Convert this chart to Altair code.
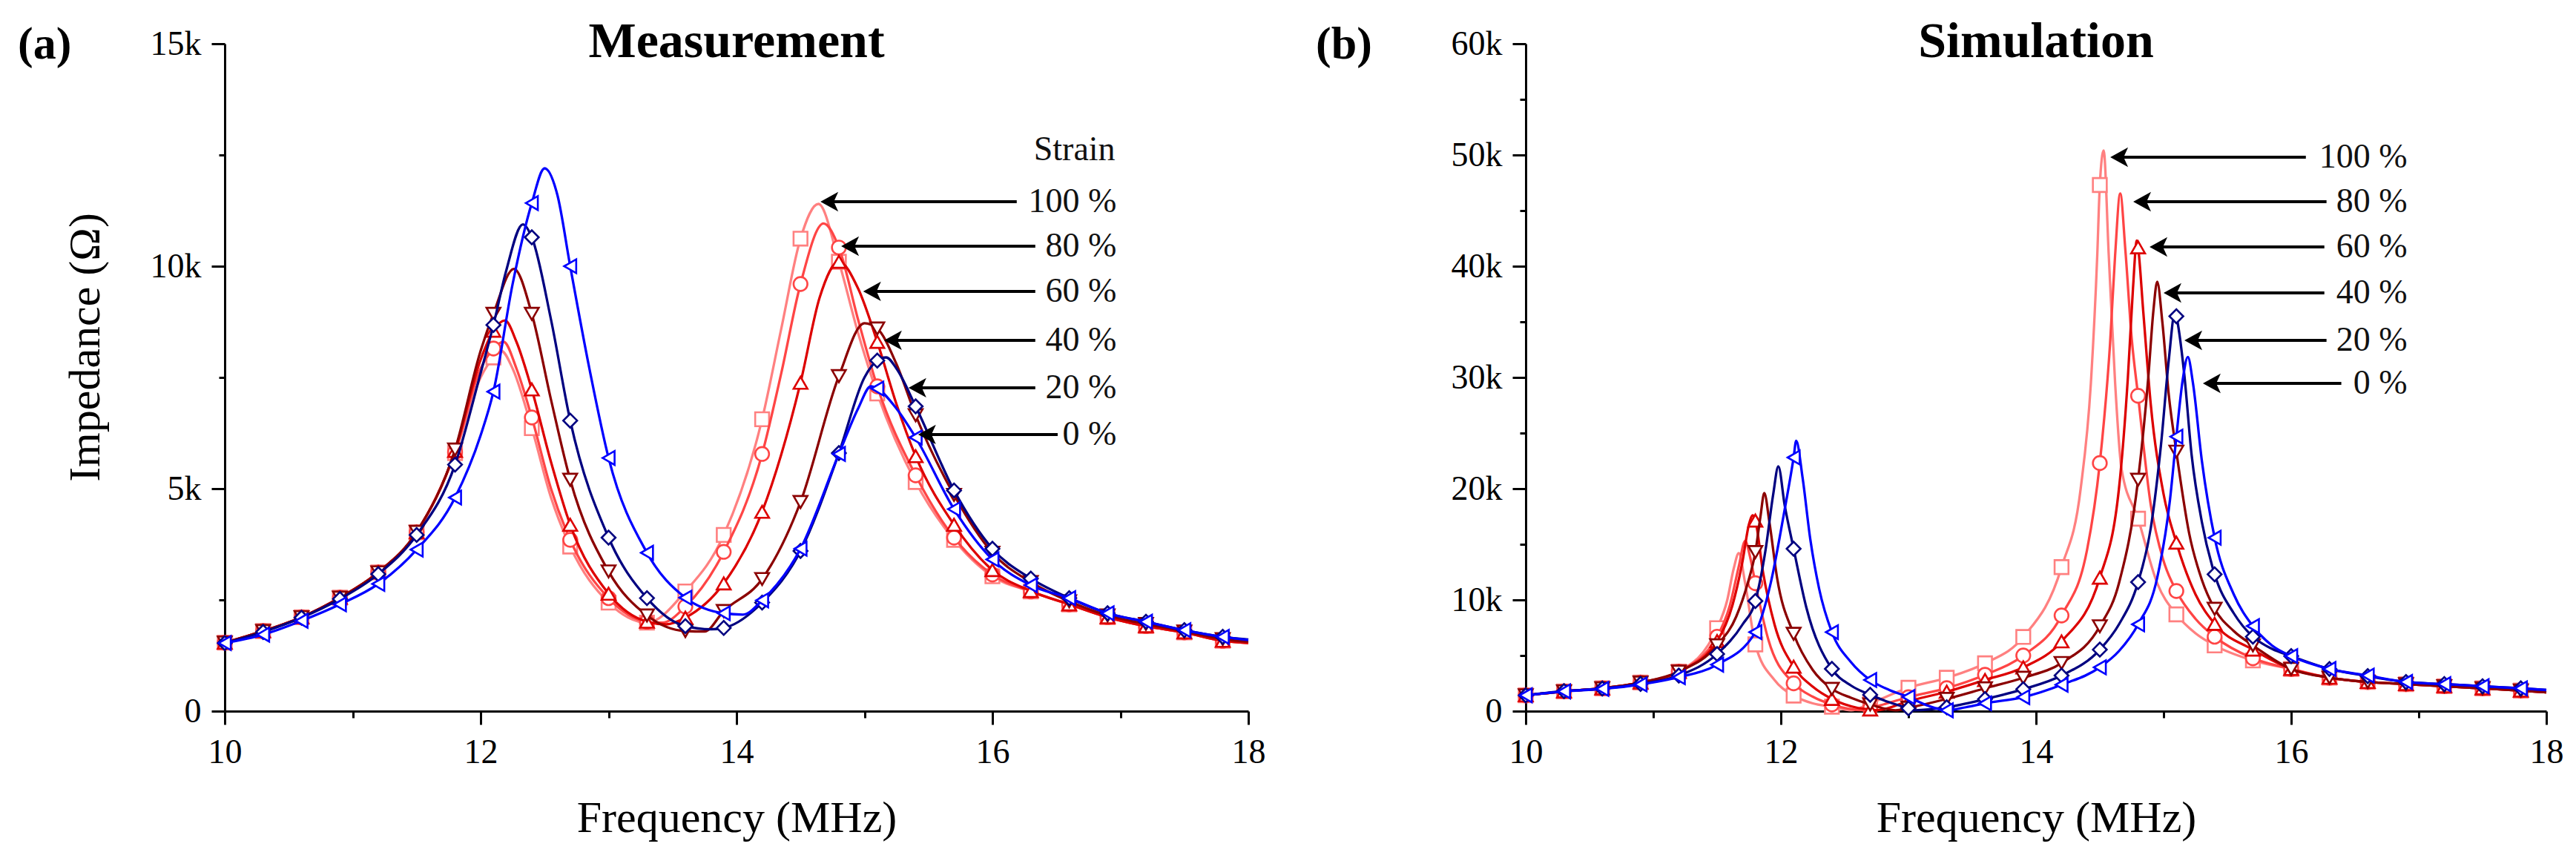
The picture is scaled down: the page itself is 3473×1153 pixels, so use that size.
import altair as alt
import pandas as pd

FONT = "Liberation Serif"

# ---------------- categories / ticks ----------------
STRAINS = ["100 %", "80 %", "60 %", "40 %", "20 %", "0 %"]
COLORS = ["#FF8080", "#FF4545", "#DD0000", "#8B0000", "#000080", "#0000FF"]
SHAPES = ["square", "circle", "triangle-up", "triangle-down", "diamond", "triangle-left"]
FREQ_TICKS = [10, 11, 12, 13, 14, 15, 16, 17, 18]
MEAS_Y_TICKS = [0, 2500, 5000, 7500, 10000, 12500, 15000]
SIM_Y_TICKS = [0, 5000, 10000, 15000, 20000, 25000, 30000, 35000, 40000, 45000, 50000, 55000, 60000]

# ---------------- (a) Measurement: (frequency MHz, impedance ohm) ----------------
MEAS_100 = [(10.0,1540),(10.3,1800),(10.6,2110),(10.9,2550),(11.2,3120),(11.5,4020),(11.8,5800),(12.0,7500),(12.1,7950),(12.16,8100),(12.25,7700),(12.4,6360),(12.55,4800),(12.7,3700),(13.0,2440),(13.3,1990),(13.6,2690),(13.9,3960),(14.2,6560),(14.35,8600),(14.5,10620),(14.64,11400),(14.8,10100),(14.95,8500),(15.1,7140),(15.4,5150),(15.7,3850),(16.0,3030),(16.3,2690),(16.6,2400),(16.9,2110),(17.2,1910),(17.5,1770),(17.8,1580),(18.0,1530)]
MEAS_80 = [(10.0,1540),(10.3,1800),(10.6,2110),(10.9,2550),(11.2,3120),(11.5,4020),(11.8,5820),(12.0,7700),(12.1,8150),(12.18,8300),(12.28,7700),(12.4,6600),(12.55,5000),(12.7,3850),(13.0,2540),(13.3,2010),(13.42,1990),(13.6,2350),(13.9,3580),(14.2,5780),(14.35,7600),(14.5,9600),(14.68,10960),(14.8,10420),(14.95,8800),(15.1,7300),(15.4,5300),(15.7,3900),(16.0,3070),(16.3,2690),(16.6,2400),(16.9,2110),(17.2,1910),(17.5,1770),(17.8,1580),(18.0,1530)]
MEAS_60 = [(10.0,1540),(10.3,1800),(10.6,2110),(10.9,2550),(11.2,3120),(11.5,4020),(11.8,5850),(12.0,7900),(12.1,8550),(12.19,8780),(12.28,8300),(12.4,7230),(12.55,5600),(12.7,4190),(13.0,2640),(13.3,2010),(13.45,1950),(13.6,2100),(13.9,2870),(14.2,4480),(14.5,7380),(14.65,9300),(14.8,10100),(14.95,9500),(15.1,8300),(15.25,6900),(15.4,5730),(15.7,4190),(16.0,3170),(16.3,2700),(16.6,2400),(16.9,2110),(17.2,1910),(17.5,1770),(17.8,1580),(18.0,1530)]
MEAS_40 = [(10.0,1540),(10.3,1800),(10.6,2110),(10.9,2550),(11.2,3120),(11.5,4030),(11.8,5880),(12.0,8100),(12.1,8930),(12.26,9940),(12.4,8930),(12.55,7000),(12.7,5200),(13.0,3140),(13.3,2150),(13.6,1800),(13.75,1790),(13.9,2250),(14.2,2970),(14.5,4700),(14.8,7530),(15.0,8720),(15.1,8600),(15.25,7800),(15.4,6650),(15.7,4860),(16.0,3560),(16.3,2900),(16.6,2470),(16.9,2150),(17.2,1960),(17.5,1790),(17.8,1620),(18.0,1560)]
MEAS_20 = [(10.0,1530),(10.3,1780),(10.6,2100),(10.9,2520),(11.2,3080),(11.5,3960),(11.8,5540),(12.0,7600),(12.1,8680),(12.2,9900),(12.33,10940),(12.4,10650),(12.55,8800),(12.7,6530),(13.0,3900),(13.3,2540),(13.6,1910),(13.8,1840),(13.9,1870),(14.2,2440),(14.5,3600),(14.8,5800),(15.0,7500),(15.1,7880),(15.17,7950),(15.25,7700),(15.4,6850),(15.7,4960),(16.0,3650),(16.3,2980),(16.6,2540),(16.9,2200),(17.2,2010),(17.5,1820),(17.8,1670),(18.0,1610)]
MEAS_0 = [(10.0,1530),(10.3,1720),(10.6,2030),(10.9,2400),(11.2,2860),(11.5,3630),(11.8,4800),(12.0,6200),(12.1,7180),(12.25,9600),(12.4,11420),(12.5,12200),(12.6,11600),(12.7,10000),(12.85,7700),(13.0,5690),(13.3,3560),(13.6,2550),(13.9,2200),(14.05,2170),(14.2,2490),(14.5,3650),(14.8,5780),(14.95,6800),(15.05,7300),(15.1,7250),(15.25,6800),(15.4,6150),(15.7,4540),(16.0,3410),(16.3,2830),(16.6,2540),(16.9,2200),(17.2,2010),(17.5,1820),(17.8,1670),(18.0,1600)]

# ---------------- (b) Simulation ----------------
SIM_100 = [(10.0,1420),(10.3,1780),(10.6,2050),(10.9,2570),(11.2,3550),(11.5,7460),(11.58,10000),(11.63,12800),(11.67,14200),(11.72,11500),(11.8,6000),(11.95,2800),(12.1,1400),(12.25,700),(12.4,400),(12.55,80),(12.7,700),(13.0,2100),(13.3,3000),(13.6,4300),(13.9,6670),(14.2,12950),(14.35,20000),(14.43,29500),(14.48,41000),(14.5,47300),(14.53,50400),(14.57,41000),(14.62,29500),(14.67,21800),(14.8,17300),(14.95,11500),(15.1,8700),(15.25,7000),(15.4,5910),(15.7,4560),(16.0,3790),(16.3,3010),(16.6,2620),(16.9,2430),(17.2,2240),(17.5,2050),(17.8,1850),(18.0,1700)]
SIM_80 = [(10.0,1420),(10.3,1780),(10.6,2050),(10.9,2570),(11.2,3550),(11.5,6690),(11.6,9500),(11.67,13000),(11.72,15300),(11.76,13800),(11.8,11500),(11.9,6500),(12.1,2500),(12.25,1300),(12.4,600),(12.65,80),(12.7,250),(13.0,1250),(13.3,2070),(13.6,3270),(13.9,5000),(14.2,8600),(14.4,14500),(14.5,22300),(14.58,33000),(14.62,41000),(14.66,46540),(14.7,41500),(14.75,33500),(14.8,28350),(14.9,18500),(15.0,13500),(15.1,10800),(15.25,8300),(15.4,6690),(15.7,4750),(16.0,3790),(16.3,3010),(16.6,2620),(16.9,2430),(17.2,2240),(17.5,2050),(17.8,1850),(18.0,1700)]
SIM_60 = [(10.0,1420),(10.3,1780),(10.6,2050),(10.9,2570),(11.2,3550),(11.5,6300),(11.62,9500),(11.7,13500),(11.75,16800),(11.78,17600),(11.8,17130),(11.86,12500),(11.95,7800),(12.1,4000),(12.25,2200),(12.4,1100),(12.6,300),(12.7,150),(12.75,80),(13.0,900),(13.3,1750),(13.6,2800),(13.9,3930),(14.2,6270),(14.5,12000),(14.65,20000),(14.72,30000),(14.76,38000),(14.79,42300),(14.8,41700),(14.84,36000),(14.9,27500),(15.0,19500),(15.1,15150),(15.25,10500),(15.4,7850),(15.7,5530),(16.0,3790),(16.3,3010),(16.6,2620),(16.9,2430),(17.2,2240),(17.5,2050),(17.8,1850),(18.0,1700)]
SIM_40 = [(10.0,1420),(10.3,1780),(10.6,2050),(10.9,2570),(11.2,3550),(11.5,5920),(11.65,8500),(11.74,11500),(11.8,14300),(11.84,17500),(11.87,19600),(11.91,17000),(11.97,12000),(12.1,6950),(12.25,3700),(12.4,2000),(12.55,1200),(12.7,600),(12.9,80),(13.0,300),(13.3,1100),(13.6,2050),(13.9,3000),(14.2,4330),(14.5,7630),(14.65,11500),(14.8,20800),(14.88,30000),(14.92,36000),(14.95,38600),(14.99,35000),(15.04,28500),(15.1,23330),(15.2,16000),(15.3,11800),(15.4,9200),(15.55,7200),(15.7,5910),(16.0,3790),(16.3,3010),(16.6,2620),(16.9,2430),(17.2,2240),(17.5,2050),(17.8,1850),(18.0,1700)]
SIM_20 = [(10.0,1420),(10.3,1800),(10.6,2030),(10.9,2450),(11.2,3200),(11.5,5140),(11.7,7800),(11.8,9900),(11.88,14500),(11.94,19500),(11.98,22000),(12.03,18500),(12.1,14600),(12.2,9300),(12.4,3800),(12.55,2300),(12.7,1470),(12.85,800),(13.0,250),(13.05,80),(13.3,350),(13.6,1080),(13.9,1970),(14.2,3200),(14.5,5530),(14.65,7800),(14.8,11600),(14.9,16500),(14.98,24000),(15.04,31500),(15.09,35900),(15.1,35500),(15.16,30500),(15.22,23000),(15.3,17000),(15.4,12300),(15.55,8800),(15.7,6690),(15.85,5600),(16.0,4950),(16.3,3790),(16.6,3150),(16.9,2620),(17.2,2430),(17.5,2240),(17.8,2050),(18.0,1900)]
SIM_0 = [(10.0,1420),(10.3,1780),(10.6,2000),(10.9,2400),(11.2,3050),(11.5,4180),(11.8,7100),(11.92,11500),(12.02,17500),(12.1,22800),(12.12,24300),(12.17,21000),(12.23,15500),(12.3,11000),(12.4,7100),(12.55,4400),(12.7,2800),(12.85,1900),(13.0,1270),(13.15,500),(13.3,80),(13.45,350),(13.6,700),(13.9,1260),(14.2,2370),(14.5,3940),(14.65,5400),(14.8,7800),(14.95,12000),(15.05,19000),(15.1,24680),(15.15,29800),(15.19,31840),(15.23,29500),(15.3,22500),(15.4,15590),(15.55,10500),(15.7,7650),(15.85,5900),(16.0,4950),(16.3,3790),(16.6,3200),(16.9,2620),(17.2,2430),(17.5,2240),(17.8,2050),(18.0,1900)]

# ---------------- annotations (data coordinates) ----------------
MEAS_ARROW_TIP_F = [14.656, 14.818, 14.99, 15.153, 15.344, 15.419]
MEAS_ARROW_Z = [11450, 10450, 9435, 8335, 7268, 6218]
MEAS_ARROW_TAIL_F = [16.19, 16.335, 16.335, 16.335, 16.335, 16.51]
MEAS_LABEL_F = 16.97
MEAS_STRAIN = ("Strain", 16.96, 12385)
MEAS_TAG = ("(a)", 8.383, 14667)
MEAS_TITLE = ("Measurement", 14.0, 14700)

SIM_ARROW_TIP_F = [14.582, 14.762, 14.890, 15.0, 15.163, 15.308]
SIM_ARROW_Z = [49800, 45800, 41730, 37600, 33330, 29470]
SIM_ARROW_TAIL_F = [16.115, 16.277, 16.26, 16.26, 16.277, 16.393]
SIM_LABEL_F = 16.91
SIM_TAG = ("(b)", 8.355, 58667)
SIM_TITLE = ("Simulation", 14.0, 58800)

ARROW_HEAD = "M0,0 L2,-1.1 L1.5,0 L2,1.1 Z"


def is_marker(f):
    k = (f - 10.0) / 0.3
    return abs(k - round(k)) < 1e-6 and f < 17.9


def make_panel(series, y_ticks, y_major, y_title, title, tag, tips, zs, tails,
               label_f, width, strain=None):
    xscale = alt.Scale(domain=[10, 18], nice=False, zero=False)
    yscale = alt.Scale(domain=[y_ticks[0], y_ticks[-1]], nice=False, zero=False)
    xaxis = alt.Axis(
        values=FREQ_TICKS,
        labelExpr="datum.value % 2 == 0 ? format(datum.value, 'd') : ''",
        tickSize={"condition": {"test": "datum.value % 2 == 0", "value": 18}, "value": 9},
        title="Frequency (MHz)",
        labelPadding=15,
        titlePadding=37,
    )
    label_expr = (
        "datum.value == 0 ? '0' : (datum.value % " + str(y_major)
        + " == 0 ? format(datum.value / 1000, 'd') + 'k' : '')"
    )
    yaxis = alt.Axis(
        values=y_ticks,
        labelExpr=label_expr,
        tickSize={"condition": {"test": "datum.value % " + str(y_major) + " == 0", "value": 18}, "value": 8},
        title=y_title,
        labelPadding=14,
        titlePadding=56,
        titleY=409,
    )

    def X(field):
        return alt.X(field, type="quantitative", scale=xscale, axis=xaxis)

    def Y(field):
        return alt.Y(field, type="quantitative", scale=yscale, axis=yaxis)

    layers = []
    for pts, color, shape in series:
        df = pd.DataFrame(sorted(pts), columns=["f", "z"])
        mk = df[df["f"].apply(is_marker)]
        layers.append(
            alt.Chart(df).mark_line(color=color, strokeWidth=3.3, interpolate="monotone")
            .encode(x=X("f"), y=Y("z"))
        )
        layers.append(
            alt.Chart(mk).mark_point(shape=shape, filled=True, fill="white", stroke=color,
                                     strokeWidth=2.6, size=350, opacity=1)
            .encode(x=X("f"), y=Y("z"))
        )

    adf = pd.DataFrame({"label": STRAINS, "tip": tips, "z": zs, "tail": tails,
                        "lab": [label_f] * len(STRAINS)})
    layers.append(
        alt.Chart(adf).transform_calculate(shaft="datum.tip + 0.06")
        .mark_rule(color="black", strokeWidth=4)
        .encode(x=X("shaft:Q"), x2=alt.X2("tail"), y=Y("z"))
    )
    layers.append(
        alt.Chart(adf).mark_point(shape=ARROW_HEAD, filled=True, color="black", size=576, opacity=1)
        .encode(x=X("tip"), y=Y("z"))
    )
    layers.append(
        alt.Chart(adf).mark_text(align="right", baseline="middle", font=FONT, fontSize=46, color="#111111")
        .encode(x=X("lab"), y=Y("z"), text="label:N")
    )
    if strain is not None:
        sdf = pd.DataFrame({"t": [strain[0]], "f": [strain[1]], "z": [strain[2]]})
        layers.append(
            alt.Chart(sdf).mark_text(align="right", baseline="alphabetic", font=FONT, fontSize=46, color="#111111")
            .encode(x=X("f"), y=Y("z"), text="t:N")
        )
    tdf = pd.DataFrame({"t": [tag[0]], "f": [tag[1]], "z": [tag[2]]})
    layers.append(
        alt.Chart(tdf).mark_text(align="left", baseline="alphabetic", font=FONT, fontSize=62,
                                 fontWeight="bold", color="black")
        .encode(x=X("f"), y=Y("z"), text="t:N")
    )
    ttdf = pd.DataFrame({"t": [title[0]], "f": [title[1]], "z": [title[2]]})
    layers.append(
        alt.Chart(ttdf).mark_text(align="center", baseline="alphabetic", font=FONT, fontSize=68,
                                  fontWeight="bold", color="black")
        .encode(x=X("f"), y=Y("z"), text="t:N")
    )

    return alt.layer(*layers).properties(width=width, height=900)


meas_series = list(zip([MEAS_100, MEAS_80, MEAS_60, MEAS_40, MEAS_20, MEAS_0], COLORS, SHAPES))
sim_series = list(zip([SIM_100, SIM_80, SIM_60, SIM_40, SIM_20, SIM_0], COLORS, SHAPES))

panel_a = make_panel(meas_series, MEAS_Y_TICKS, 5000, "Impedance (Ω)", MEAS_TITLE, MEAS_TAG,
                     MEAS_ARROW_TIP_F, MEAS_ARROW_Z, MEAS_ARROW_TAIL_F, MEAS_LABEL_F, 1380,
                     strain=MEAS_STRAIN)
panel_b = make_panel(sim_series, SIM_Y_TICKS, 10000, "", SIM_TITLE, SIM_TAG,
                     SIM_ARROW_TIP_F, SIM_ARROW_Z, SIM_ARROW_TAIL_F, SIM_LABEL_F, 1376)

chart = (
    alt.hconcat(panel_a, panel_b, spacing=374, bounds="flush")
    .properties(padding={"left": 15, "top": 14, "right": 5, "bottom": 5}, background="white")
    .configure_view(stroke="transparent")
    .configure_axis(
        domainColor="black", domainWidth=3, tickColor="black", tickWidth=3,
        labelFont=FONT, labelFontSize=46, labelColor="black", labelFlush=False, labelOverlap=False,
        titleFont=FONT, titleFontSize=60, titleFontWeight="normal", titleColor="black", grid=False,
    )
)

chart.save("out.html", embed_options={"renderer": "svg", "actions": False})
